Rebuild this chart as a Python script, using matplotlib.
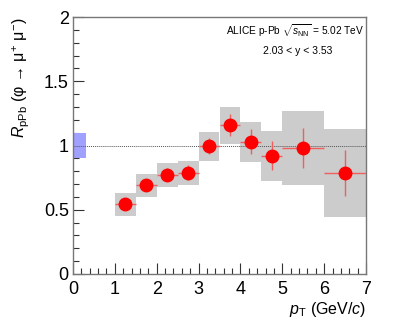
import matplotlib
matplotlib.use("Agg")
import matplotlib.pyplot as plt
from matplotlib.patches import Rectangle
from matplotlib.ticker import MultipleLocator

plt.rcParams['font.family'] = ['Liberation Sans', 'DejaVu Sans']
plt.rcParams['mathtext.fontset'] = 'custom'
plt.rcParams['mathtext.rm'] = 'Liberation Sans'
plt.rcParams['mathtext.it'] = 'Liberation Sans:italic'
plt.rcParams['mathtext.bf'] = 'Liberation Sans:bold'

# Data
pt_center = [1.25, 1.75, 2.25, 2.75, 3.25, 3.75, 4.25, 4.75, 5.5, 6.5]
pt_low = [1.0, 1.5, 2.0, 2.5, 3.0, 3.5, 4.0, 4.5, 5.0, 6.0]
pt_high = [1.5, 2.0, 2.5, 3.0, 3.5, 4.0, 4.5, 5.0, 6.0, 7.0]
rppb = [0.542, 0.690, 0.773, 0.788, 0.996, 1.157, 1.030, 0.921, 0.981, 0.786]
stat_err = [0.03, 0.04, 0.05, 0.06, 0.06, 0.085, 0.10, 0.115, 0.153, 0.18]
sys_low = [0.451, 0.602, 0.680, 0.693, 0.877, 1.009, 0.872, 0.726, 0.690, 0.446]
sys_high = [0.633, 0.778, 0.864, 0.879, 1.107, 1.302, 1.183, 1.110, 1.271, 1.126]
norm_unc = 0.095

fig = plt.figure(figsize=(4.07, 3.35), dpi=100)
ax = fig.add_axes([73/407, 61/335, 293/407, 257/335])

ax.set_xlim(0, 7)
ax.set_ylim(0, 2)

for lo, hi, sl, sh in zip(pt_low, pt_high, sys_low, sys_high):
    ax.add_patch(Rectangle((lo, sl), hi - lo, sh - sl, facecolor='#cccccc',
                           edgecolor='none', zorder=1))

ax.add_patch(Rectangle((0, 1 - norm_unc), 0.3, 2 * norm_unc, facecolor='#a0a0ff',
                       edgecolor='none', zorder=2))

ax.plot([0, 7], [1, 1], linestyle=(0, (1, 1)), color='#555555', lw=0.7, zorder=2)

xerr = [[c - l for c, l in zip(pt_center, pt_low)], [h - c for c, h in zip(pt_center, pt_high)]]
ax.errorbar(pt_center, rppb, xerr=xerr, yerr=stat_err, fmt='none',
            ecolor='#ee6060', elinewidth=1.0, capsize=0, zorder=3)
ax.plot(pt_center, rppb, 'o', color='red', markersize=9, zorder=4)

ax.xaxis.set_major_locator(MultipleLocator(1))
ax.xaxis.set_minor_locator(MultipleLocator(0.2))
ax.yaxis.set_major_locator(MultipleLocator(0.5))
ax.yaxis.set_minor_locator(MultipleLocator(0.1))
ax.set_yticks([0, 0.5, 1, 1.5, 2])
ax.set_yticklabels(['0', '0.5', '1', '1.5', '2'])
ax.tick_params(which='both', direction='in', top=False, right=False, colors='#333333',
               labelcolor='black', labelsize=13, width=0.8)
ax.tick_params(which='major', length=8)
ax.tick_params(which='minor', length=4)
ax.tick_params(axis='x', pad=5)
ax.tick_params(axis='y', pad=3)

for sp in ax.spines.values():
    sp.set_color('#777777')
    sp.set_linewidth(1.0)

ax.set_ylabel(r'$R_{\rm pPb}$ (φ → μ$^{+}$ μ$^{-}$)', fontsize=11.5, loc='top')
ax.yaxis.set_label_coords(-0.14, 1.0)
ax.set_xlabel(r'$p_{\rm T}$ (GeV/$c$)', fontsize=11.5, loc='right')
ax.xaxis.set_label_coords(1.0, -0.1)

ax.text(0.995, 0.915, r'ALICE p-Pb $\sqrt{s_{\rm NN}}$ = 5.02 TeV', transform=ax.transAxes,
        ha='right', va='bottom', fontsize=7.3)
ax.text(0.768, 0.85, r'2.03 < y < 3.53', transform=ax.transAxes,
        ha='center', va='bottom', fontsize=7.5)

fig.savefig('out.png', dpi=100)
